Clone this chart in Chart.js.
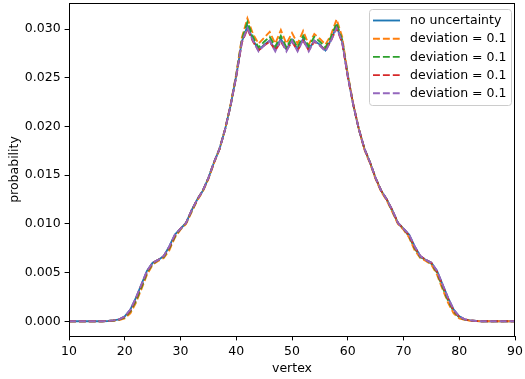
<!DOCTYPE html>
<html>
<head>
<meta charset="utf-8">
<script src="https://cdn.jsdelivr.net/npm/chart.js@4.4.1/dist/chart.umd.min.js"></script>
<style>
  html, body { margin:0; padding:0; background:#fff; }
  #c { display:block; }
</style>
</head>
<body>
<canvas id="c" width="525" height="379"></canvas>
<script>
// vertices 10..90
const vertices = [];
for (let v = 10; v <= 90; v++) vertices.push(v);

const noUncertainty = [
  0, 0, 0, 0, 0, 0, 0, 0.00003, 0.0001, 0.0002,
  0.0005, 0.0012, 0.0024, 0.0038, 0.0052, 0.0060, 0.0063, 0.0067, 0.0077, 0.0089,
  0.0095, 0.0101, 0.0114, 0.0125, 0.0134, 0.0147, 0.0163, 0.0177, 0.0197, 0.0222,
  0.0252, 0.0287, 0.0303, 0.0289, 0.0278, 0.0284, 0.0288, 0.0279, 0.0290, 0.0279,
  0.0289, 0.0279, 0.0290, 0.0279, 0.0288, 0.0284, 0.0278, 0.0289, 0.0303, 0.0287,
  0.0252, 0.0222, 0.0197, 0.0177, 0.0163, 0.0147, 0.0134, 0.0125, 0.0114, 0.0101,
  0.0095, 0.0089, 0.0077, 0.0067, 0.0063, 0.0060, 0.0052, 0.0038, 0.0024, 0.0012,
  0.0005, 0.0002, 0.0001, 0.00003, 0, 0, 0, 0, 0, 0,
  0
];
const devOrange = [
  0, 0, 0, 0, 0, 0, 0, 0.00002, 0.00006, 0.00013,
  0.0003, 0.0008, 0.0019, 0.0033, 0.0048, 0.0058, 0.0062, 0.0065, 0.0073, 0.0086,
  0.0094, 0.0100, 0.0112, 0.0124, 0.0133, 0.0146, 0.0162, 0.0177, 0.0197, 0.0223,
  0.0254, 0.0291, 0.0311, 0.0295, 0.0285, 0.0291, 0.0297, 0.0285, 0.0299, 0.0285,
  0.0296, 0.0285, 0.0298, 0.0284, 0.0295, 0.0290, 0.0284, 0.0294, 0.0310, 0.0292,
  0.0254, 0.0223, 0.0197, 0.0176, 0.0162, 0.0146, 0.0133, 0.0124, 0.0112, 0.0100,
  0.0094, 0.0086, 0.0073, 0.0065, 0.0062, 0.0058, 0.0048, 0.0033, 0.0019, 0.0008,
  0.0003, 0.00013, 0.00006, 0.00002, 0, 0, 0, 0, 0, 0,
  0
];
const devGreen = [
  0, 0, 0, 0, 0, 0, 0, 0.00003, 0.00008, 0.00017,
  0.0004, 0.0010, 0.0021, 0.0035, 0.0050, 0.0059, 0.0063, 0.0066, 0.0075, 0.0087,
  0.0095, 0.0101, 0.0113, 0.0125, 0.0134, 0.0147, 0.0163, 0.0177, 0.0197, 0.0222,
  0.0253, 0.0289, 0.0307, 0.0292, 0.0281, 0.0287, 0.0292, 0.0282, 0.0293, 0.0281,
  0.0291, 0.0281, 0.0293, 0.0282, 0.0292, 0.0287, 0.0281, 0.0292, 0.0306, 0.0289,
  0.0253, 0.0222, 0.0197, 0.0177, 0.0163, 0.0147, 0.0134, 0.0125, 0.0113, 0.0101,
  0.0095, 0.0087, 0.0075, 0.0066, 0.0063, 0.0059, 0.0050, 0.0035, 0.0021, 0.0010,
  0.0004, 0.00017, 0.00008, 0.00003, 0, 0, 0, 0, 0, 0,
  0
];
const devRed = [
  0, 0, 0, 0, 0, 0, 0, 0.00003, 0.00009, 0.00019,
  0.00045, 0.0011, 0.0023, 0.0037, 0.0051, 0.0060, 0.0063, 0.0067, 0.0076, 0.0088,
  0.0095, 0.0101, 0.0114, 0.0125, 0.0134, 0.0147, 0.0163, 0.0177, 0.0197, 0.0222,
  0.0251, 0.0286, 0.0300, 0.0287, 0.0278, 0.0283, 0.0287, 0.0278, 0.0287, 0.0278,
  0.0287, 0.0278, 0.0288, 0.0278, 0.0287, 0.0283, 0.0278, 0.0288, 0.0301, 0.0286,
  0.0251, 0.0222, 0.0197, 0.0177, 0.0163, 0.0147, 0.0134, 0.0125, 0.0114, 0.0101,
  0.0095, 0.0088, 0.0076, 0.0067, 0.0063, 0.0060, 0.0051, 0.0037, 0.0023, 0.0011,
  0.00045, 0.00019, 0.00009, 0.00003, 0, 0, 0, 0, 0, 0,
  0
];
const devPurple = [
  0, 0, 0, 0, 0, 0, 0, 0.00003, 0.0001, 0.0002,
  0.0005, 0.0012, 0.0024, 0.0038, 0.0052, 0.0060, 0.0063, 0.0067, 0.0077, 0.0089,
  0.0095, 0.0101, 0.0114, 0.0125, 0.0134, 0.0147, 0.0163, 0.0177, 0.0197, 0.0222,
  0.0252, 0.0287, 0.0301, 0.0288, 0.0277, 0.0283, 0.0288, 0.0277, 0.0289, 0.0277,
  0.0288, 0.0277, 0.0289, 0.0277, 0.0288, 0.0283, 0.0277, 0.0288, 0.0301, 0.0287,
  0.0252, 0.0222, 0.0197, 0.0177, 0.0163, 0.0147, 0.0134, 0.0125, 0.0114, 0.0101,
  0.0095, 0.0089, 0.0077, 0.0067, 0.0063, 0.0060, 0.0052, 0.0038, 0.0024, 0.0012,
  0.0005, 0.0002, 0.0001, 0.00003, 0, 0, 0, 0, 0, 0,
  0
];

const seriesLabels = ['no uncertainty', 'deviation = 0.1', 'deviation = 0.1', 'deviation = 0.1', 'deviation = 0.1'];
const seriesValues = [noUncertainty, devOrange, devGreen, devRed, devPurple];
const colors = ['#1f77b4', '#ff7f0e', '#2ca02c', '#d62728', '#9467bd'];
const xTicks = [10, 20, 30, 40, 50, 60, 70, 80, 90];
const yTicks = [0, 0.005, 0.010, 0.015, 0.020, 0.025, 0.030];

const FONT = { family: 'DejaVu Sans', size: 12.5 };
const LW = 1.875;
const DASH = [6.9, 3];

// matplotlib-like frame + legend
const frameLegend = {
  id: 'frameLegend',
  afterDraw(chart){
    const {ctx, chartArea:a} = chart;
    ctx.save();
    ctx.strokeStyle = '#000'; ctx.lineWidth = 1;
    ctx.strokeRect(Math.round(a.left)+0.5, Math.round(a.top)+0.5, Math.round(a.right-a.left)-1, Math.round(a.bottom-a.top));
    // legend box
    const bx = 369.5, by = 9.5, bw = 142, bh = 96, r = 3;
    ctx.beginPath();
    ctx.roundRect(bx, by, bw, bh, r);
    ctx.fillStyle = 'rgba(255,255,255,0.8)';
    ctx.fill();
    ctx.strokeStyle = '#cccccc';
    ctx.stroke();
    ctx.font = `${FONT.size}px ${FONT.family}`;
    ctx.textBaseline = 'middle';
    seriesLabels.forEach((lab, i)=>{
      const y = 20.5 + i*18.2;
      ctx.beginPath();
      ctx.strokeStyle = colors[i];
      ctx.lineWidth = LW;
      ctx.setLineDash(i === 0 ? [] : DASH);
      ctx.moveTo(373, y); ctx.lineTo(400, y);
      ctx.stroke();
      ctx.setLineDash([]);
      ctx.fillStyle = '#000';
      ctx.fillText(lab, 410, y + 0.5);
    });
    ctx.restore();
  }
};

const datasets = seriesValues.map((vals, i)=>({
  label: seriesLabels[i],
  data: vertices.map((v, k)=>({ x: v, y: vals[k] })),
  borderColor: colors[i],
  backgroundColor: colors[i],
  borderWidth: LW,
  borderDash: i === 0 ? [] : DASH,
  pointRadius: 0,
  tension: 0,
  fill: false,
  order: 5 - i
}));

new Chart(document.getElementById('c').getContext('2d'), {
  type: 'line',
  data: { datasets },
  options: {
    responsive: false, animation: false, devicePixelRatio: 1,
    layout: { padding: { top: 3, right: 10, left: 0, bottom: 0 } },
    plugins: { legend: { display: false }, tooltip: { enabled: false } },
    scales: {
      x: {
        type: 'linear', min: 10, max: 90,
        afterBuildTicks: (s)=>{ s.ticks = xTicks.map(v=>({ value: v })); },
        afterFit: (s)=>{ s.height = 43; s.paddingLeft = 0; s.paddingRight = 0; },
        ticks: { font: FONT, color: '#000', padding: 4, maxRotation: 0 },
        grid: { drawOnChartArea: false, drawTicks: true, tickLength: 4.4, color: '#000', lineWidth: 1 },
        border: { display: false },
        title: { display: true, text: 'vertex', font: FONT, color: '#000', padding: { top: 0, bottom: 3 } }
      },
      y: {
        type: 'linear', min: -0.00151, max: 0.03267,
        afterBuildTicks: (s)=>{ s.ticks = yTicks.map(v=>({ value: v })); },
        afterFit: (s)=>{ s.width = 69; s.paddingTop = 0; s.paddingBottom = 0; },
        ticks: { font: FONT, color: '#000', padding: 4, callback: (v)=> v.toFixed(3) },
        grid: { drawOnChartArea: false, drawTicks: true, tickLength: 4.4, color: '#000', lineWidth: 1 },
        border: { display: false },
        title: { display: true, text: 'probability', font: FONT, color: '#000', padding: { top: 7.5, bottom: 0 } }
      }
    }
  },
  plugins: [frameLegend]
});
</script>
</body>
</html>
